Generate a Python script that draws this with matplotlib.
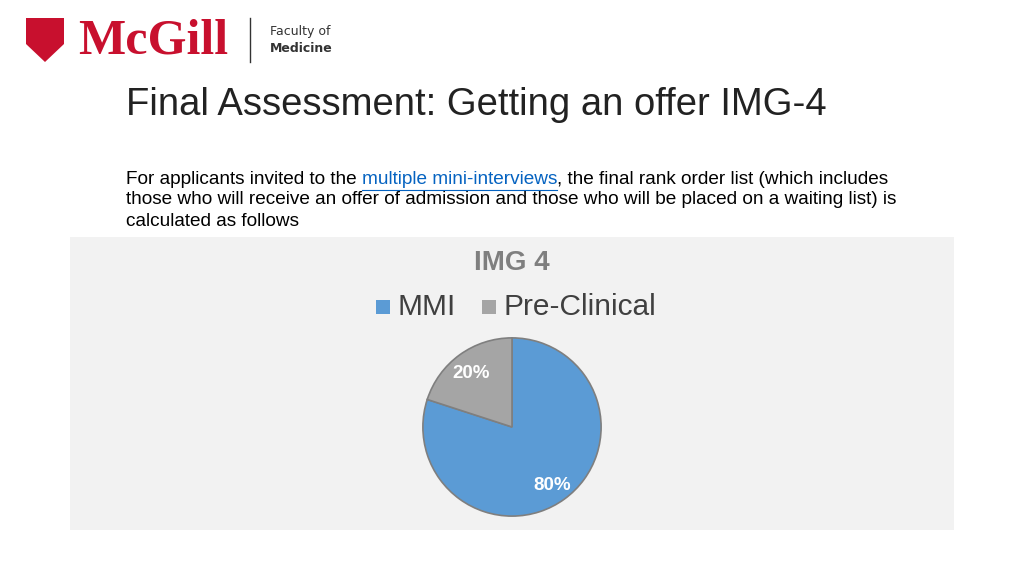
import matplotlib.pyplot as plt
from matplotlib.patches import Rectangle, Polygon

labels = ["MMI", "Pre-Clinical"]
values = [80, 20]
colors = ["#5B9BD5", "#A5A5A5"]
pct_labels = ["80%", "20%"]

W, H = 1024, 576
fig = plt.figure(figsize=(10.24, 5.76), dpi=100)
fig.patch.set_facecolor("white")

def fx(x): return x / W
def fy(y): return 1 - y / H

# logo (approximation)
fig.add_artist(Polygon([(fx(26), fy(18)), (fx(64), fy(18)), (fx(64), fy(44)),
                        (fx(45), fy(62)), (fx(26), fy(44))], closed=True,
                       transform=fig.transFigure, facecolor="#C8102E", edgecolor="none"))
fig.text(fx(78), fy(41), "McGill", color="#C8102E", fontsize=36, fontweight="bold",
         family="Liberation Serif", va="center", ha="left")
fig.add_artist(plt.Line2D([fx(250), fx(250)], [fy(18), fy(62)], color="#333333", lw=1))
fig.text(fx(270), fy(31), "Faculty of", fontsize=9, color="#333333", va="center")
fig.text(fx(270), fy(48), "Medicine", fontsize=9, color="#333333", fontweight="bold", va="center")

fig.text(fx(126), fy(105), "Final Assessment: Getting an offer IMG-4", fontsize=27.5,
         family="Liberation Sans", color="#222222", va="center")

fs = 13.7
fig.canvas.draw()
r_ = fig.canvas.get_renderer()
t1 = fig.text(fx(126), fy(180), "For applicants invited to the ", fontsize=fs,
              family="Liberation Sans", va="center")
x1 = t1.get_window_extent(r_).x1 / W
t2 = fig.text(x1, fy(180), "multiple mini-interviews", fontsize=fs, family="Liberation Sans",
              color="#0563C1", va="center")
x2 = t2.get_window_extent(r_).x1 / W
fig.add_artist(plt.Line2D([x1, x2], [fy(190), fy(190)], color="#0563C1", lw=0.8))
fig.text(x2, fy(180), ", the final rank order list (which includes", fontsize=fs,
         family="Liberation Sans", va="center")
fig.text(fx(126), fy(200), "those who will receive an offer of admission and those who will be placed on a waiting list) is",
         fontsize=fs, family="Liberation Sans", va="center")
fig.text(fx(126), fy(221), "calculated as follows", fontsize=fs, family="Liberation Sans", va="center")

fig.add_artist(Rectangle((fx(70), fy(530)), (954 - 70) / W, (530 - 237) / H,
                         transform=fig.transFigure, facecolor="#F2F2F2", edgecolor="none", zorder=0))

fig.text(fx(512), fy(263), "IMG 4", fontsize=20, fontweight="bold", color="#7F7F7F",
         family="Liberation Sans", ha="center", va="center")

# legend
lx = [376, 482]
for i, (lab, c) in enumerate(zip(labels, colors)):
    fig.add_artist(Rectangle((fx(lx[i]), fy(314)), 14 / W, 14 / H, transform=fig.transFigure,
                             facecolor=c, edgecolor="none"))
    fig.text(fx(lx[i] + 22), fy(307), lab, fontsize=21.5, color="#404040",
             family="Liberation Sans", va="center")

r = 90
ax = fig.add_axes([fx(512 - r), fy(427 + r), 2 * r / W, 2 * r / H])
wedges, texts = ax.pie(values, colors=colors, startangle=90, counterclock=False,
                       wedgeprops=dict(edgecolor="#7F7F7F", linewidth=1.2))
ax.set_xlim(-1.01, 1.01)
ax.set_ylim(-1.01, 1.01)
ax.set_aspect("equal")
label_pos = [(552, 485), (471, 373)]
for (px, py), t in zip(label_pos, pct_labels):
    fig.text(fx(px), fy(py), t, fontsize=13.5, fontweight="bold", color="white",
             family="Liberation Sans", ha="center", va="center")

fig.savefig("out.png", dpi=100)
